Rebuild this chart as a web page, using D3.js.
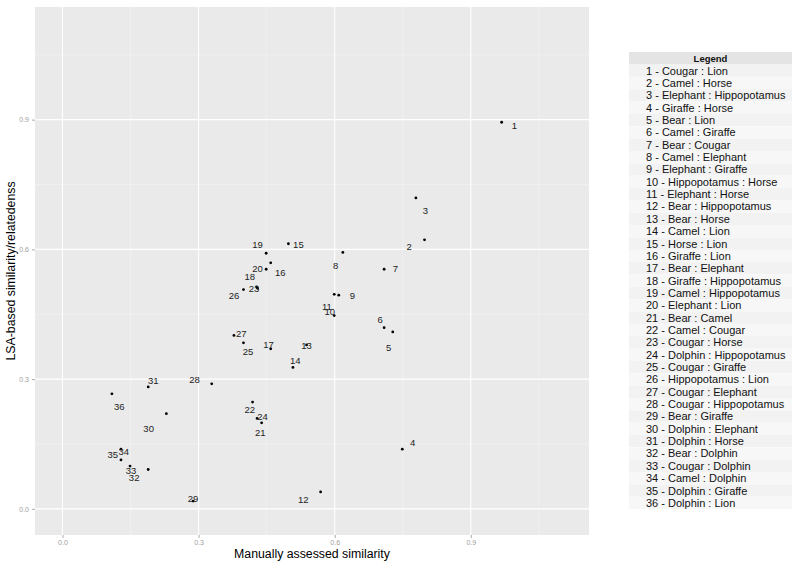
<!DOCTYPE html>
<html>
<head>
<meta charset="utf-8">
<script src="https://cdn.jsdelivr.net/npm/d3@7/dist/d3.min.js"></script>
<style>
  html, body { margin: 0; padding: 0; background: #ffffff; }
  svg { display: block; font-family: "Liberation Sans", Arial, sans-serif; }
</style>
</head>
<body>
<svg id="chart" width="800" height="568"></svg>
<script>
// ---- Data ----
const ids = d3.range(1, 37);
const pairs = [
  "Cougar : Lion", "Camel : Horse", "Elephant : Hippopotamus", "Giraffe : Horse",
  "Bear : Lion", "Camel : Giraffe", "Bear : Cougar", "Camel : Elephant",
  "Elephant : Giraffe", "Hippopotamus : Horse", "Elephant : Horse", "Bear : Hippopotamus",
  "Bear : Horse", "Camel : Lion", "Horse : Lion", "Giraffe : Lion",
  "Bear : Elephant", "Giraffe : Hippopotamus", "Camel : Hippopotamus", "Elephant : Lion",
  "Bear : Camel", "Camel : Cougar", "Cougar : Horse", "Dolphin : Hippopotamus",
  "Cougar : Giraffe", "Hippopotamus : Lion", "Cougar : Elephant", "Cougar : Hippopotamus",
  "Bear : Giraffe", "Dolphin : Elephant", "Dolphin : Horse", "Bear : Dolphin",
  "Cougar : Dolphin", "Camel : Dolphin", "Dolphin : Giraffe", "Dolphin : Lion"
];
// Manually assessed similarity
const manual = [
  0.968, 0.798, 0.779, 0.749, 0.728, 0.709, 0.709, 0.618, 0.609, 0.599,
  0.599, 0.569, 0.538, 0.508, 0.498, 0.459, 0.459, 0.428, 0.449, 0.449,
  0.439, 0.419, 0.430, 0.429, 0.399, 0.399, 0.378, 0.329, 0.288, 0.229,
  0.189, 0.189, 0.149, 0.129, 0.129, 0.109
];
// LSA-based similarity/relatedness
const lsa = [
  0.894, 0.622, 0.719, 0.138, 0.409, 0.419, 0.554, 0.593, 0.494, 0.447,
  0.496, 0.039, 0.379, 0.327, 0.613, 0.569, 0.370, 0.513, 0.591, 0.554,
  0.199, 0.247, 0.510, 0.209, 0.384, 0.507, 0.401, 0.289, 0.018, 0.220,
  0.282, 0.091, 0.099, 0.138, 0.113, 0.266
];
// jittered label positions (data units)
const labelX = [
  0.996, 0.764, 0.800, 0.772, 0.719, 0.700, 0.734, 0.602, 0.639, 0.589,
  0.583, 0.531, 0.538, 0.513, 0.520, 0.480, 0.454, 0.413, 0.430, 0.430,
  0.436, 0.413, 0.422, 0.441, 0.409, 0.378, 0.394, 0.291, 0.288, 0.190,
  0.200, 0.158, 0.151, 0.135, 0.111, 0.125
];
const labelY = [
  0.885, 0.607, 0.689, 0.152, 0.373, 0.438, 0.556, 0.562, 0.492, 0.457,
  0.467, 0.021, 0.377, 0.342, 0.612, 0.545, 0.379, 0.536, 0.610, 0.555,
  0.177, 0.230, 0.509, 0.212, 0.364, 0.494, 0.406, 0.298, 0.023, 0.186,
  0.296, 0.071, 0.088, 0.132, 0.125, 0.236
];
const majorTicks = [0.0, 0.3, 0.6, 0.9];
const minorTicks = [0.15, 0.45, 0.75, 1.05];
const limits = [0, 1.1];
const xTitle = "Manually assessed similarity";
const yTitle = "LSA-based similarity/relatedenss";
const legendTitle = "Legend";

// ---- Layout ----
const svg = d3.select("#chart");
const panel = { left: 35, top: 7, right: 589, bottom: 535 };
const expand = 0.055 * (limits[1] - limits[0]);

const x = d3.scaleLinear()
  .domain([limits[0] - expand, limits[1] + expand])
  .range([panel.left, panel.right]);
const y = d3.scaleLinear()
  .domain([limits[0] - expand, limits[1] + expand])
  .range([panel.bottom, panel.top]);

// panel background
svg.append("rect")
  .attr("x", panel.left).attr("y", panel.top)
  .attr("width", panel.right - panel.left)
  .attr("height", panel.bottom - panel.top)
  .attr("fill", "#eaeaea");

// minor grid
const g = svg.append("g");
g.selectAll(".vminor").data(minorTicks).join("line")
  .attr("x1", d => x(d)).attr("x2", d => x(d))
  .attr("y1", panel.top).attr("y2", panel.bottom)
  .attr("stroke", "#f3f3f3").attr("stroke-width", 0.6);
g.selectAll(".hminor").data(minorTicks).join("line")
  .attr("y1", d => y(d)).attr("y2", d => y(d))
  .attr("x1", panel.left).attr("x2", panel.right)
  .attr("stroke", "#f3f3f3").attr("stroke-width", 0.6);
// major grid
g.selectAll(".vmajor").data(majorTicks).join("line")
  .attr("x1", d => x(d)).attr("x2", d => x(d))
  .attr("y1", panel.top).attr("y2", panel.bottom)
  .attr("stroke", "#ffffff").attr("stroke-width", 1.1);
g.selectAll(".hmajor").data(majorTicks).join("line")
  .attr("y1", d => y(d)).attr("y2", d => y(d))
  .attr("x1", panel.left).attr("x2", panel.right)
  .attr("stroke", "#ffffff").attr("stroke-width", 1.1);

// axes
const fmt = d3.format(".1f");
const xAxis = d3.axisBottom(x).tickValues(majorTicks).tickFormat(fmt).tickSize(3).tickPadding(2);
const yAxis = d3.axisLeft(y).tickValues(majorTicks).tickFormat(fmt).tickSize(3).tickPadding(3);

const xa = svg.append("g").attr("transform", `translate(0,${panel.bottom})`).call(xAxis);
const ya = svg.append("g").attr("transform", `translate(${panel.left},0)`).call(yAxis);
[xa, ya].forEach(a => {
  a.select(".domain").remove();
  a.selectAll(".tick line").attr("stroke", "#aaaaaa");
  a.selectAll(".tick text").attr("fill", "#a0a0a0")
    .style("font-size", "7px")
    .style("font-family", "'Liberation Sans', Arial, sans-serif");
});

// axis titles
svg.append("text")
  .attr("x", (panel.left + panel.right) / 2).attr("y", 558)
  .attr("text-anchor", "middle")
  .style("font-size", "12.3px").attr("fill", "#000")
  .text(xTitle);
svg.append("text")
  .attr("transform", `translate(15,${(panel.top + panel.bottom) / 2}) rotate(-90)`)
  .attr("text-anchor", "middle")
  .style("font-size", "12.3px").attr("fill", "#000")
  .text(yTitle);

// points
const data = ids.map((id, i) => ({
  id, pair: pairs[i], x: manual[i], y: lsa[i], lx: labelX[i], ly: labelY[i]
}));

svg.append("g").selectAll("circle").data(data).join("circle")
  .attr("cx", d => x(d.x)).attr("cy", d => y(d.y))
  .attr("r", 1.4).attr("fill", "#000");

svg.append("g").selectAll("text").data(data).join("text")
  .attr("x", d => x(d.lx)).attr("y", d => y(d.ly))
  .attr("dy", "0.35em")
  .attr("text-anchor", "middle")
  .style("font-size", "9.5px").attr("fill", "#222")
  .text(d => d.id);

// legend table
const leg = { left: 629, right: 792, top: 52, headerH: 12.5, rowH: 12.35 };
const lg = svg.append("g");
lg.append("rect")
  .attr("x", leg.left).attr("y", leg.top)
  .attr("width", leg.right - leg.left).attr("height", leg.headerH)
  .attr("fill", "#e4e4e4");
lg.append("text")
  .attr("x", (leg.left + leg.right) / 2).attr("y", leg.top + leg.headerH / 2)
  .attr("dy", "0.35em").attr("text-anchor", "middle")
  .style("font-size", "9.5px").style("font-weight", "bold").attr("fill", "#111")
  .text(legendTitle);

const rowTop = leg.top + leg.headerH;
lg.selectAll(".row").data(data).join("rect")
  .attr("x", leg.left).attr("y", (d, i) => rowTop + i * leg.rowH)
  .attr("width", leg.right - leg.left).attr("height", leg.rowH)
  .attr("fill", (d, i) => i % 2 === 0 ? "#f2f2f2" : "#f7f7f7");
lg.selectAll(".rowtext").data(data).join("text")
  .attr("x", 646).attr("y", (d, i) => rowTop + i * leg.rowH + leg.rowH / 2)
  .attr("dy", "0.36em")
  .style("font-size", "11px").attr("fill", "#111")
  .text(d => `${d.id} - ${d.pair}`);
</script>
</body>
</html>
